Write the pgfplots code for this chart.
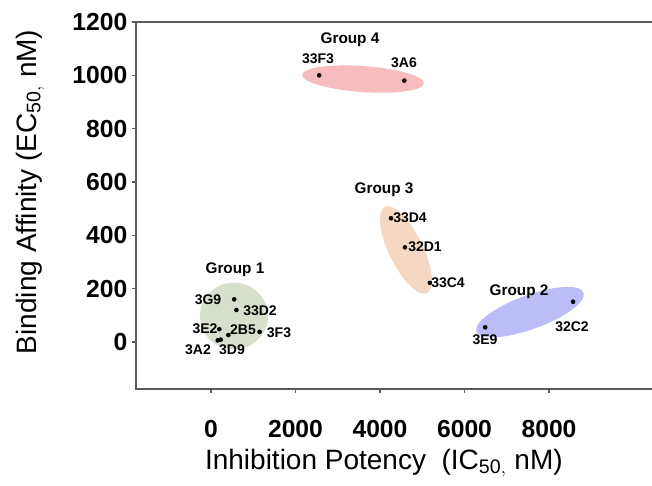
\documentclass[border=0pt]{standalone}
\usepackage{pgfplots}
\pgfplotsset{compat=1.18}
\usepackage{fontspec}
\setmainfont{Liberation Sans}
\usetikzlibrary{shapes.geometric}
\definecolor{gA}{RGB}{214,224,204}
\definecolor{gB}{RGB}{188,188,248}
\definecolor{gC}{RGB}{246,216,194}
\definecolor{gD}{RGB}{246,188,190}
\definecolor{axgray}{RGB}{90,90,90}
\begin{document}
\begin{tikzpicture}
\begin{axis}[
  at={(0,0)}, anchor=south west, scale only axis,
  width=393pt, height=275.25pt,
  xmin=-1775, xmax=10627, ymin=-176.25, ymax=1200,
  xtick={0,2000,4000,6000,8000}, ytick={0,200,400,600,800,1000,1200},
  scaled x ticks=false, scaled y ticks=false,
  xtick pos=bottom, ytick pos=left,
  tick align=outside, major tick length=3pt,
  tick style={axgray, line width=1pt},
  axis line style={axgray, line width=1.2pt},
  /pgf/number format/assume math mode=true,
  /pgf/number format/set thousands separator={},
  tick label style={font=\bfseries\fontsize{18.5}{20}\selectfont},
  xticklabel style={yshift=-17pt},
  xlabel={Inhibition Potency\ \ (IC$_{\mathrm{50,}}$ nM)},
  ylabel={Binding Affinity (EC$_{\mathrm{50,}}$ nM)},
  label style={font=\fontsize{21}{24}\selectfont},
  xlabel style={at={(axis description cs:0.473,-0.2016)}, anchor=center},
  ylabel style={at={(axis description cs:-0.2023,0.537)}, anchor=center},
  clip=false,
]
\node[ellipse, fill=gA, inner sep=0, minimum width=51pt, minimum height=50pt] at (axis cs:544,97.5) {};
\node[ellipse, fill=gD, inner sep=0, minimum width=91.5pt, minimum height=19.5pt, rotate=-4] at (axis cs:3598,986) {};
\node[ellipse, fill=gC, inner sep=0, minimum width=72pt, minimum height=25.5pt, rotate=-64] at (axis cs:4615,345) {};
\node[ellipse, fill=gB, inner sep=0, minimum width=85.5pt, minimum height=25.5pt, rotate=20] at (axis cs:7550,112) {};
\addplot[only marks, mark=*, mark size=1.5pt, black] coordinates {
  (550,160) (600,120) (197,48) (410,26) (1150,38) (160,6) (230,9)
  (2560,1000) (4575,980)
  (4260,464) (4590,355) (5180,222)
  (8570,151) (6490,55)
};
\begin{scope}[font=\bfseries\fontsize{10.5}{12}\selectfont]
\node at (axis cs:-71,157.5) {3G9};
\node at (axis cs:1160,116) {33D2};
\node at (axis cs:-142,49) {3E2};
\node at (axis cs:757,45) {2B5};
\node at (axis cs:1609,34) {3F3};
\node at (axis cs:-308,-30) {3A2};
\node at (axis cs:497,-30) {3D9};
\node at (axis cs:2533,1061) {33F3};
\node at (axis cs:4568,1046) {3A6};
\node at (axis cs:4710,465) {33D4};
\node at (axis cs:5065,356) {32D1};
\node at (axis cs:5609,221) {33C4};
\node at (axis cs:8544,56) {32C2};
\node at (axis cs:6485,7.5) {3E9};
\end{scope}
\begin{scope}[font=\bfseries\fontsize{11.5}{13}\selectfont]
\node at (axis cs:568,270) {Group 1};
\node at (axis cs:3290,1132) {Group 4};
\node at (axis cs:4095,570) {Group 3};
\node at (axis cs:7290,187.5) {Group 2};
\end{scope}
\end{axis}
\pgfresetboundingbox
\path (-102pt,-72pt) rectangle (387pt,291.75pt);
\end{tikzpicture}
\end{document}
